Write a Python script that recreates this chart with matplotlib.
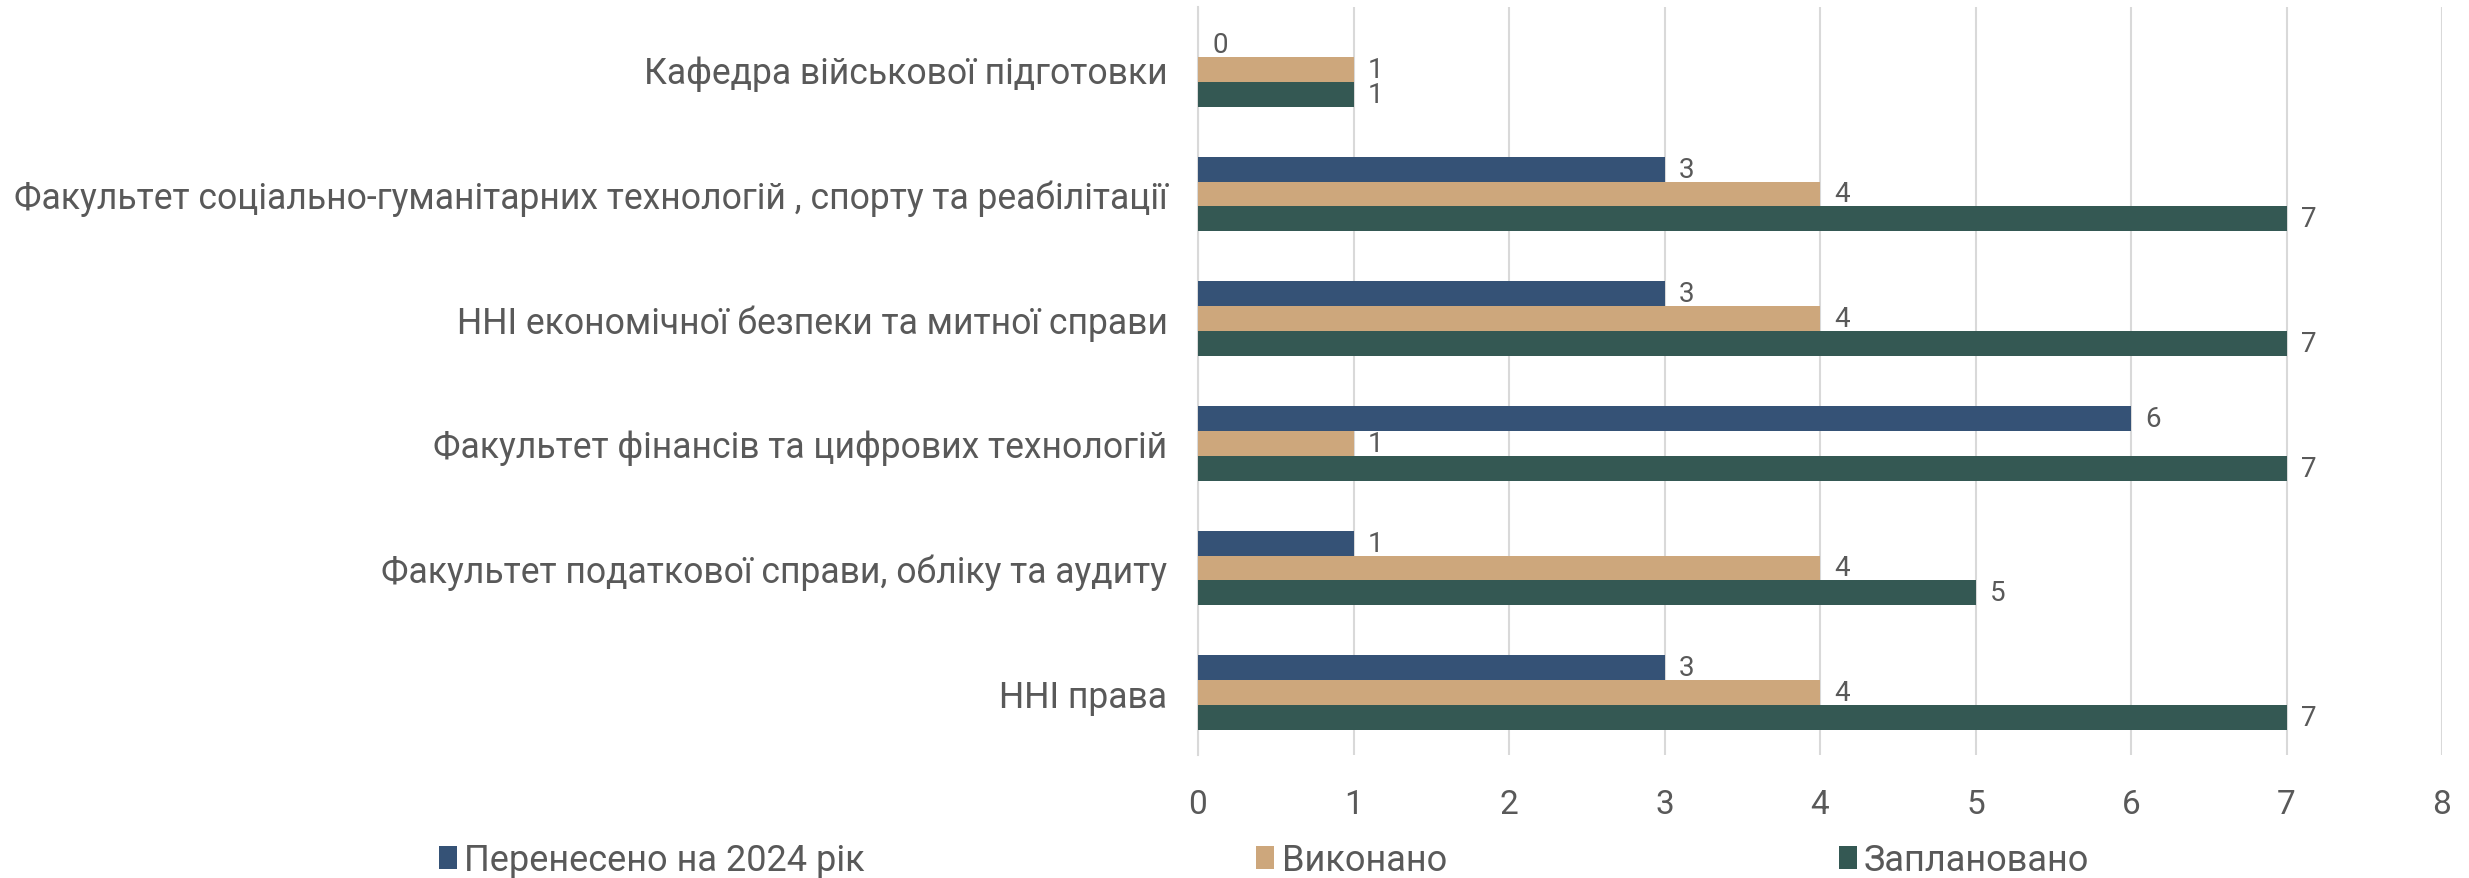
import matplotlib
matplotlib.use("Agg")
import matplotlib.pyplot as plt
import numpy as np

categories = [
    "Кафедра військової підготовки",
    "Факультет соціально-гуманітарних технологій , спорту та реабілітації",
    "ННІ економічної безпеки та митної справи",
    "Факультет фінансів та цифрових технологій",
    "Факультет податкової справи, обліку та аудиту",
    "ННІ права",
]
series_names = ["Перенесено на 2024 рік", "Виконано", "Заплановано"]
transferred = [0, 3, 3, 6, 1, 3]
done = [1, 4, 4, 1, 4, 4]
planned = [1, 7, 7, 7, 5, 7]
colors = ["#355276", "#CDA77C", "#345853"]
x_ticks = [0, 1, 2, 3, 4, 5, 6, 7, 8]

plt.rcParams['font.family'] = ['Roboto', 'DejaVu Sans']
text_color = "#595959"

fig = plt.figure(figsize=(24.69, 8.79), dpi=100)
ax = fig.add_axes([1198/2469, 1-756/879, (2442-1198)/2469, (756-8)/879])

n = len(categories)
y = np.arange(n)
h = 0.2
data = [transferred, done, planned]
for i, (vals, name, c) in enumerate(zip(data, series_names, colors)):
    pos = y + (i - 1) * h
    bars = ax.barh(pos, vals, height=h, color=c, label=name, zorder=3)
    for b, v in zip(bars, vals):
        ax.annotate(str(v), (v, b.get_y() + b.get_height()/2), xytext=(14, 0),
                    textcoords="offset pixels", va="center", ha="left",
                    fontsize=20, color=text_color)

ax.set_ylim(n - 0.5, -0.5)
ax.set_xlim(0, 8)
ax.set_xticks(x_ticks)
ax.set_yticks(y)
ax.set_yticklabels(categories)
ax.tick_params(axis='y', length=0, pad=22, labelsize=25.6, labelcolor=text_color)
ax.tick_params(axis='x', length=0, pad=24, labelsize=24, labelcolor=text_color)
ax.grid(axis='x', color="#d9d9d9", linewidth=1.5, zorder=0)
for s in ["top", "right", "bottom"]:
    ax.spines[s].set_visible(False)
ax.spines["left"].set_color("#d9d9d9")
ax.spines["left"].set_linewidth(1.5)

handles, labels = ax.get_legend_handles_labels()
fig.legend(handles, labels, loc="center", bbox_to_anchor=(1264/2469, 1-861/879),
           ncol=3, frameon=False, fontsize=26, handlelength=0.5, handleheight=0.6,
           handletextpad=0.2, columnspacing=10.85, labelcolor=text_color)

fig.savefig("out.png", dpi=100)
